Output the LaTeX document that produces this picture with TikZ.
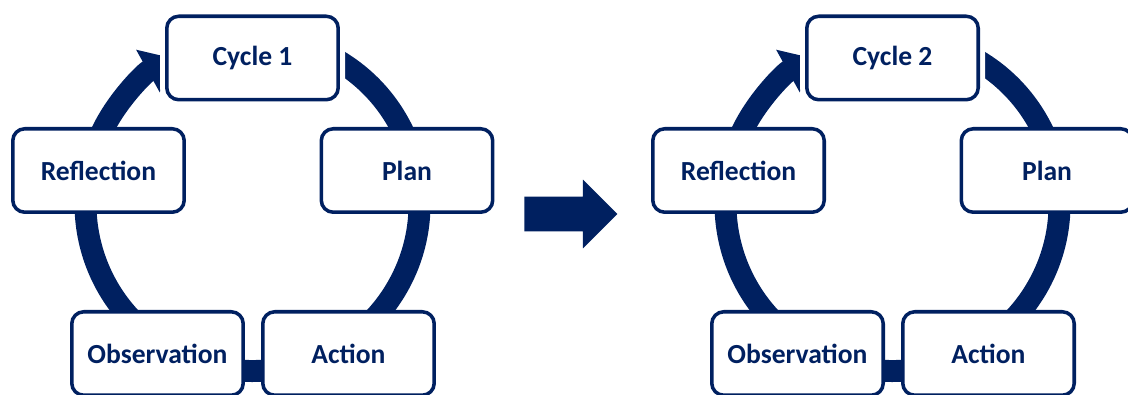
\documentclass[tikz,border=0pt]{standalone}
\usepackage{fontspec}
\setmainfont{Carlito}
\usetikzlibrary{arrows.meta,shapes.arrows}
\definecolor{cycleBlue}{RGB}{0,32,96}
\newcommand{\stageFont}[0]{\fontsize{15.7}{18}\selectfont\bfseries}
\newcommand{\cycleGap}[0]{640}

\begin{document}
\begin{tikzpicture}[x=0.02cm, y=0.02cm]
  \tikzset{
    stage/.style={draw=cycleBlue, line width=2pt, fill=white, text=cycleBlue,
      rounded corners=0.24cm, minimum width=3.43cm, minimum height=1.67cm,
      outer sep=0pt, font=\stageFont},
    headstage/.style={stage, preaction={draw=white, line width=7.7pt}},
    ring/.style={draw=cycleBlue, line width=12.5pt,
      -{Triangle[width=0.94cm, length=0.54cm]}},
    nextarrow/.style={single arrow, fill=cycleBlue, inner sep=0.34cm,
      minimum height=1.86cm, single arrow head extend=0.34cm}
  }
  \useasboundingbox (0,0) rectangle (1128,395);
  \clip (0,0) rectangle (1128,395);

  \foreach \c in {1,2} {
    \begin{scope}[xshift={(\c-1)*\cycleGap*0.02cm}]
      \coordinate (ctr\c) at (252.5,191);
      \draw[ring] ([shift={(60:167)}]ctr\c) arc[start angle=60, end angle=-241, radius=167];
      \node[headstage] (cycle\c) at (252.5,337) {Cycle \c};
      \node[stage] (plan\c) at (407,224.5) {Plan};
      \node[stage] (reflection\c) at (98.5,224.5) {Reflection};
      \node[stage] (observation\c) at (157.5,41.5) {Observation};
      \node[stage] (action\c) at (348.5,41.5) {Action};
    \end{scope}
  }

  \node[nextarrow, anchor=tail] (next) at (524,181) {};
\end{tikzpicture}
\end{document}
